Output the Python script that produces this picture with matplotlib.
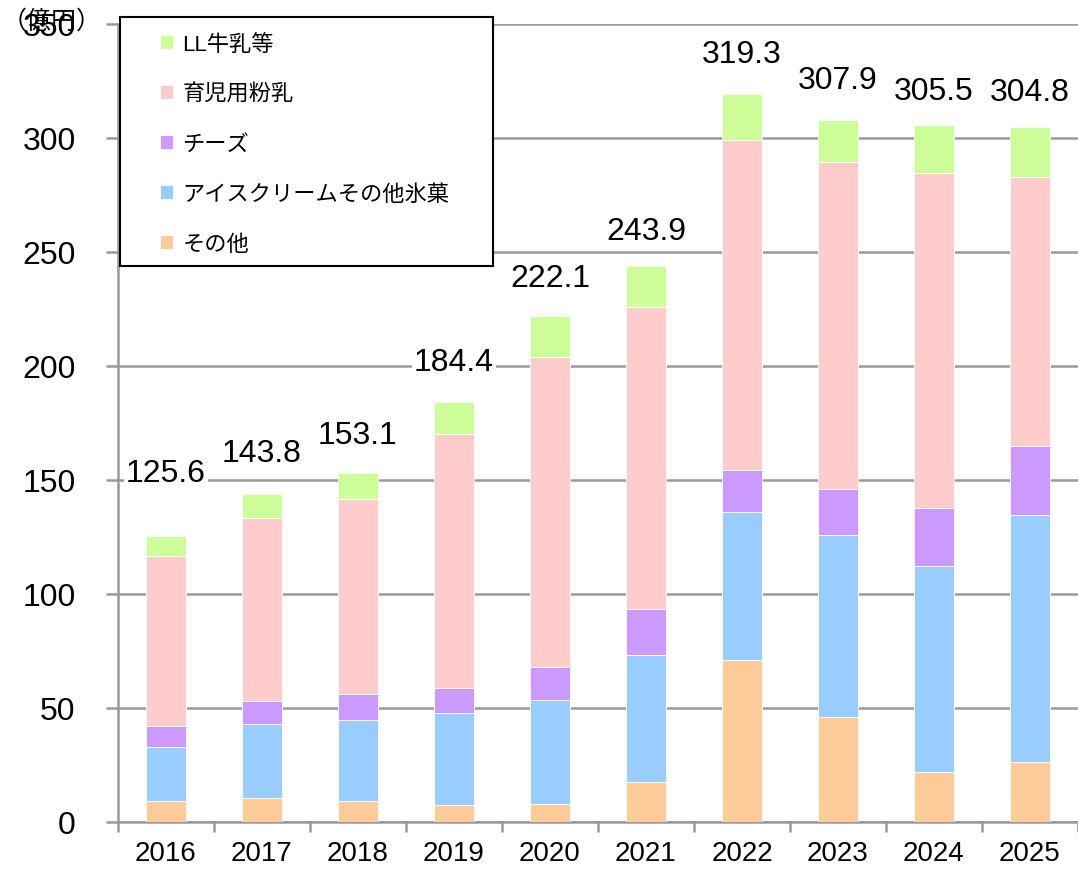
import numpy as np
import matplotlib
matplotlib.use("Agg")
import matplotlib.pyplot as plt
from matplotlib.patches import Rectangle

plt.rcParams["font.family"] = ["Liberation Sans", "Noto Sans CJK JP", "DejaVu Sans"]

years = ["2016", "2017", "2018", "2019", "2020", "2021", "2022", "2023", "2024", "2025"]

# stacked segments, bottom to top
other = [9.2, 10.4, 9.1, 7.5, 7.9, 17.5, 71.2, 46.2, 21.8, 26.2]
ice_cream = [23.7, 32.4, 35.6, 40.2, 45.6, 55.7, 64.8, 79.5, 90.5, 108.4]
cheese = [9.3, 10.4, 11.6, 11.2, 14.5, 20.1, 18.4, 20.2, 25.3, 30.4]
infant_formula = [74.5, 80.1, 85.4, 111.4, 136.0, 132.6, 144.7, 143.4, 147.2, 118.0]
totals = [125.6, 143.8, 153.1, 184.4, 222.1, 243.9, 319.3, 307.9, 305.5, 304.8]
ll_milk = [t - (a + b + c + d) for t, a, b, c, d in
           zip(totals, other, ice_cream, cheese, infant_formula)]

names = ["その他", "アイスクリームその他氷菓", "チーズ", "育児用粉乳", "LL牛乳等"]
colors = ["#FFCC99", "#99CCFF", "#CC99FF", "#FFCCCC", "#CCFF99"]

# label lift above bar top (data units)
label_dy = [27.5, 18, 16.5, 17.3, 16.5, 15.5, 17.5, 17.5, 15, 15.5]

W, H = 1078, 870
fig = plt.figure(figsize=(W / 100, H / 100), dpi=100)
ax = fig.add_axes([118 / W, 1 - 823 / H, 1 - 118 / W, (823 - 25) / H])

x = np.arange(len(years))
bottom = np.zeros(len(years))
for vals, name, col in zip([other, ice_cream, cheese, infant_formula, ll_milk], names, colors):
    ax.bar(x, vals, width=0.41, bottom=bottom, color=col, edgecolor="white",
           linewidth=0.6, label=name, zorder=3)
    bottom += np.array(vals)

for xi, t, dy in zip(x, totals, label_dy):
    ax.text(xi, t + dy, f"{t:.1f}", ha="center", va="center", fontsize=23, zorder=4,
            bbox=dict(facecolor="white", edgecolor="none", pad=1.5))

ax.set_xlim(-0.5, len(years) - 0.5)
ax.set_ylim(0, 350)
ax.set_yticks(np.arange(0, 351, 50))
ax.yaxis.grid(True, color="#999999", linewidth=1.8, zorder=0)
ax.set_axisbelow(True)

ax.set_xticks(x)
ax.set_xticklabels(years)
ax.set_xticks(np.arange(-0.5, len(years), 1), minor=True)
ax.tick_params(axis="x", which="major", length=0, labelsize=20, pad=13)
ax.tick_params(axis="x", which="minor", length=7, width=1.8, color="#999999")
ax.tick_params(axis="y", length=8.5, width=1.8, color="#999999", labelsize=23, pad=22)

for s in ["top", "right"]:
    ax.spines[s].set_visible(False)
for s in ["left", "bottom"]:
    ax.spines[s].set_color("#999999")
    ax.spines[s].set_linewidth(1.8)

fig.text(2 / W, 1 - 22 / H, "（億円）", fontsize=18, ha="left", va="center")

handles, labels = ax.get_legend_handles_labels()
leg = ax.legend(handles[::-1], labels[::-1], loc="upper left",
                bbox_to_anchor=(160 / W, 1 - 35 / H), bbox_transform=fig.transFigure,
                fontsize=16, frameon=False, handlelength=0.6, handleheight=0.6,
                handletextpad=0.4, labelspacing=1.3, borderpad=0, borderaxespad=0)
leg.set_zorder(6)

# legend frame
frame = Rectangle((120 / W, 1 - 267 / H), (493 - 120) / W, (267 - 18) / H,
                  transform=fig.transFigure, facecolor="white", edgecolor="black",
                  linewidth=1.5, zorder=5)
fig.add_artist(frame)
fig.add_artist(leg)

fig.savefig("out.png", dpi=100)
